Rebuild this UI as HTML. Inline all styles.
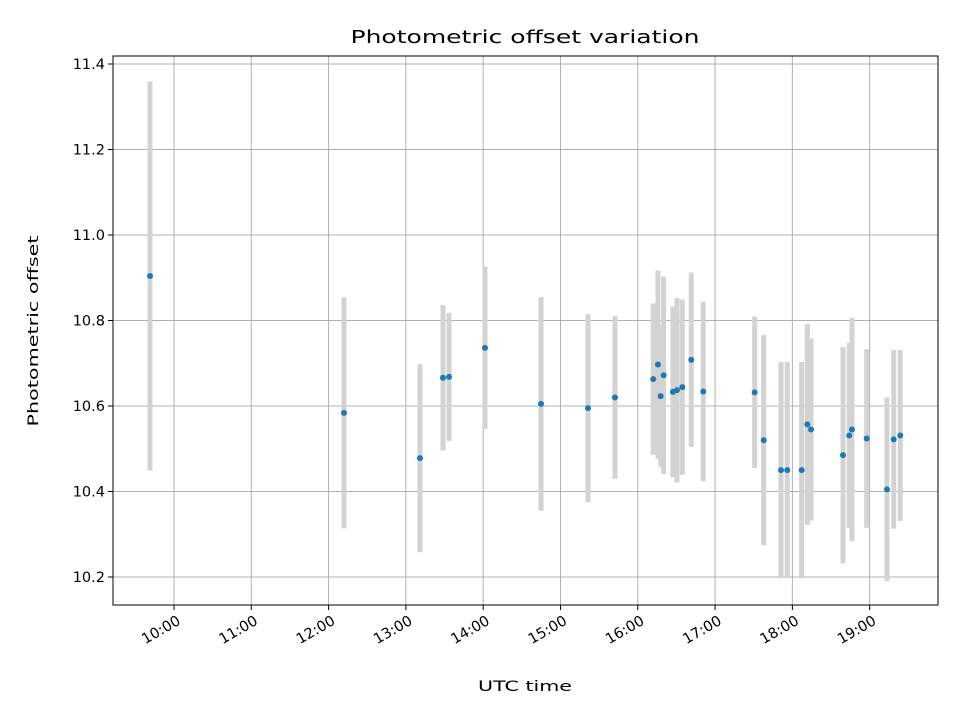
<!DOCTYPE html>
<html><head><meta charset="utf-8"><style>
body{margin:0;background:#fff;}
svg text{font-family:"DejaVu Sans","Liberation Sans",sans-serif;fill:#000;}
</style></head><body>
<svg id="chart" width="960" height="720" xmlns="http://www.w3.org/2000/svg">
<rect width="960" height="720" fill="#fff"/>
<g id="grid"></g>
<g id="bars"></g>
<g id="pts"></g>
<rect x="113" y="56" width="825" height="549" fill="none" stroke="#000" stroke-width="1"/>
<g id="axes"></g>
<text x="525" y="43" font-size="17.5" text-anchor="middle" textLength="349" lengthAdjust="spacingAndGlyphs">Photometric offset variation</text>
<text x="525" y="691" font-size="14.5" text-anchor="middle" textLength="94" lengthAdjust="spacingAndGlyphs">UTC time</text>
<text transform="translate(38,331) rotate(-90)" font-size="14.5" text-anchor="middle" textLength="191" lengthAdjust="spacingAndGlyphs">Photometric offset</text>
</svg>
<script>
const times=[9.690,12.199,13.182,13.480,13.558,14.023,14.748,15.356,15.705,16.200,16.261,16.296,16.335,16.455,16.507,16.576,16.692,16.847,17.512,17.629,17.853,17.934,18.120,18.193,18.241,18.655,18.736,18.771,18.961,19.224,19.311,19.396];
const offsets=[10.904,10.584,10.478,10.666,10.668,10.736,10.605,10.595,10.620,10.663,10.697,10.623,10.672,10.633,10.637,10.644,10.708,10.634,10.632,10.520,10.450,10.450,10.450,10.557,10.545,10.485,10.531,10.545,10.524,10.405,10.522,10.531];
const errors=[0.455,0.270,0.220,0.170,0.150,0.190,0.250,0.220,0.190,0.177,0.220,0.165,0.231,0.200,0.216,0.205,0.204,0.210,0.177,0.246,0.253,0.253,0.253,0.235,0.213,0.253,0.217,0.261,0.209,0.215,0.209,0.200];
const xTickHours=[10,11,12,13,14,15,16,17,18,19];
const xTickLabels=["10:00","11:00","12:00","13:00","14:00","15:00","16:00","17:00","18:00","19:00"];
const yTicks=[10.2,10.4,10.6,10.8,11.0,11.2,11.4];
const yTickLabels=["10.2","10.4","10.6","10.8","11.0","11.2","11.4"];

const X0=113,X1=938,Y0=56,Y1=605,HMIN=9.211,HMAX=19.884,VMIN=10.1345,VMAX=11.4187;
const xs=h=>X0+(h-HMIN)/(HMAX-HMIN)*(X1-X0);
const ys=v=>Y1-(v-VMIN)/(VMAX-VMIN)*(Y1-Y0);
const NS="http://www.w3.org/2000/svg";
function mk(parent,tag,attrs){const e=document.createElementNS(NS,tag);for(const k in attrs)e.setAttribute(k,attrs[k]);document.getElementById(parent).appendChild(e);return e;}

xTickHours.forEach((h,i)=>{
  const x=xs(h);
  let g=mk('grid','line',{x1:x,x2:x,y1:Y0,y2:Y1,stroke:'#b0b0b0','stroke-width':1});
  
  
  let t=mk('axes','line',{x1:x,x2:x,y1:Y1,y2:Y1+5,stroke:'#000'});
  
  
  let l=mk('axes','text',{x:0,y:11,'font-size':'14.5','text-anchor':'end',transform:`translate(${x+2} ${Y1+9}) rotate(-30)`});
  l.textContent=xTickLabels[i];
  
  
});
yTicks.forEach((v,i)=>{
  const y=ys(v);
  let g=mk('grid','line',{x1:X0,x2:X1,y1:y,y2:y,stroke:'#b0b0b0','stroke-width':1});
  
  
  let t=mk('axes','line',{x1:X0-5,x2:X0,y1:y,y2:y,stroke:'#000'});
  
  
  let l=mk('axes','text',{x:X0-8,y:y+5,'font-size':'14.5','text-anchor':'end'});
  l.textContent=yTickLabels[i];
  
  
});
times.forEach((h,i)=>{
  const x=xs(h);
  let b=mk('bars','line',{x1:x,x2:x,y1:ys(offsets[i]+errors[i]),y2:ys(offsets[i]-errors[i]),stroke:'#d3d3d3','stroke-width':5});
  
  
});
times.forEach((h,i)=>{
  let c=mk('pts','circle',{cx:xs(h),cy:ys(offsets[i]),r:3,fill:'#1f77b4'});
  
  
});
</script>
</body></html>
